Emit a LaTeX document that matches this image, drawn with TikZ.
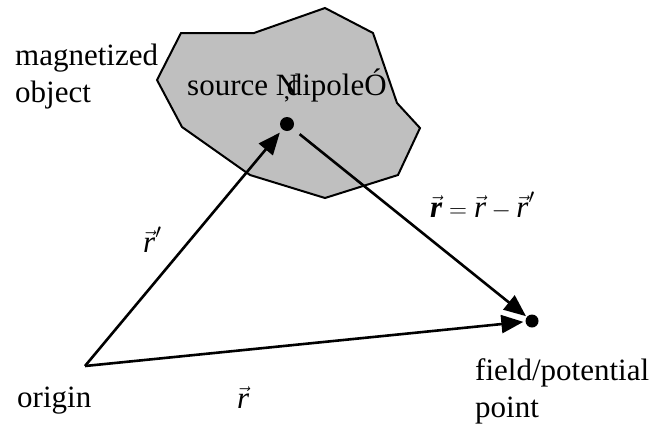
\documentclass[tikz,border=0pt]{standalone}
\usepackage{fontspec}
\setmainfont{Liberation Serif}
\usetikzlibrary{arrows.meta}
\newcommand\myvec[1]{\vec{\mbox{#1}}}
\tikzset{
  lbl/.style={anchor=base west, inner sep=0pt, font=\fontsize{31}{37}\selectfont},
  dotnode/.style={circle, fill=black, inner sep=0pt, minimum size=#1},
  vecarrow/.style={line width=2.6pt, -{Triangle[length=22pt,width=18pt]}},
  blob/.style={draw=black, line width=2pt, fill=gray!50!white, line join=miter}
}
\begin{document}
\begin{tikzpicture}[x=1pt,y=-1pt]
\useasboundingbox (0,0) rectangle (655,426);
% magnetized object
\draw[blob] (181,33) -- (254,33) -- (325,8) -- (373,33) -- (397,103) -- (420,128)
  -- (398,175) -- (325,198) -- (250,175) -- (182,127) -- (157,80) -- cycle;
% points
\node[dotnode=14pt] (src) at (287,124) {};
\node[dotnode=13pt] (fld) at (532,321) {};
\coordinate (origin) at (85,366);
% arrows
\draw[vecarrow, shorten >=4pt] (origin) -- (src);
\draw[vecarrow, shorten >=2pt] (origin) -- (fld);
\draw[vecarrow, shorten <=9pt, shorten >=1pt] (src) -- (fld);
% labels
\node[lbl] (t1) at (15,65) {magnetized};
\node[lbl] (t2) at (15,102) {object};
\node[lbl] (t3) at (187,95) {source \rlap{Ņ}\hspace{11pt}dipoleÓ};
\node[lbl] (t4) at (17,407) {origin};
\node[lbl] (t5) at (475,380) {field/potential};
\node[lbl] (t6) at (475,417) {point};
\node[lbl] (t7) at (237,408) {$\myvec{\itshape r}$};
\node[lbl] (t8) at (143,252) {$\myvec{\itshape r}'$};
\node[lbl] (t9) at (430,217) {$\myvec{\bfseries\itshape r} = \myvec{\itshape r} - \myvec{\itshape r}'$};
\end{tikzpicture}
\end{document}
